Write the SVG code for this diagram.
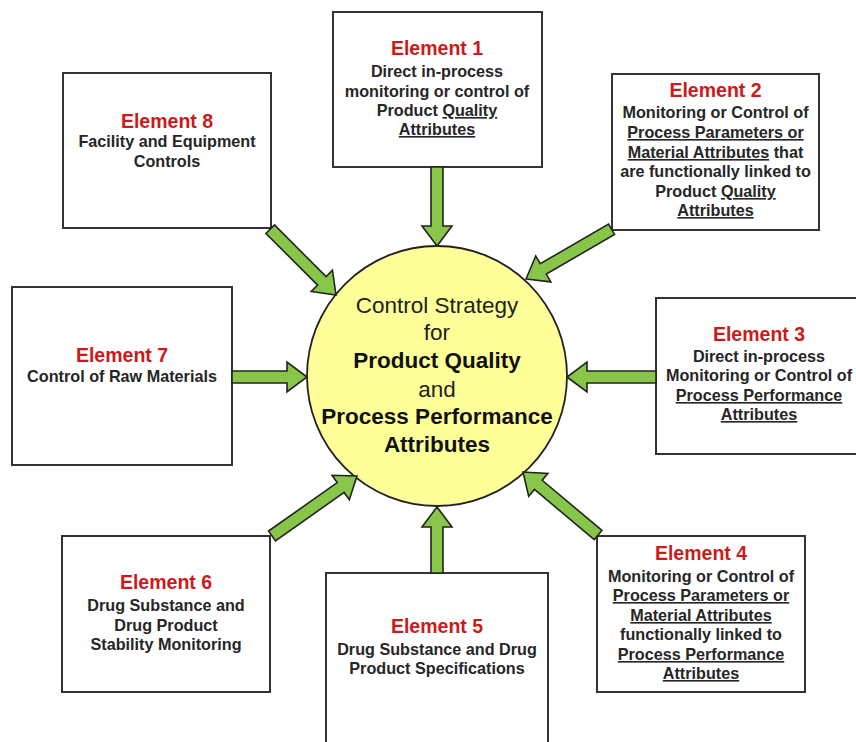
<svg xmlns="http://www.w3.org/2000/svg" width="856" height="742" viewBox="0 0 856 742">
<defs>
<style>
.box{fill:#fff;stroke:#333;stroke-width:2}
.arr{fill:#88c64a;stroke:#222;stroke-width:1.6;stroke-linejoin:miter}
.hd{font-family:"Liberation Sans",Arial,sans-serif;font-weight:bold;font-size:19.5px;fill:#cc1a1a;text-anchor:middle}
.bd{font-family:"Liberation Sans",Arial,sans-serif;font-weight:bold;font-size:16.2px;fill:#262626;text-anchor:middle}
.u{text-decoration:underline}
.ct{font-family:"Liberation Sans",Arial,sans-serif;font-size:22.5px;fill:#222;text-anchor:middle}
.cb{font-weight:bold;fill:#111}
</style>
<path id="a" d="M0,-6 H-20 V-15 L0,0 L-20,15 V6 Z"/>
</defs>
<rect width="856" height="742" fill="#fff"/>

<g id="center">
<circle cx="437" cy="376" r="130" fill="#ffff99" stroke="#222" stroke-width="1.8"/>
<text class="ct" x="437" y="313">Control Strategy</text>
<text class="ct" x="437" y="340">for</text>
<text class="ct cb" x="437" y="368">Product Quality</text>
<text class="ct" x="437" y="397">and</text>
<text class="ct cb" x="437" y="424">Process Performance</text>
<text class="ct cb" x="437" y="452">Attributes</text>
</g>

<g id="element1">
<rect class="box" x="333" y="12" width="209" height="155"/>
<text class="hd" x="437" y="55">Element 1</text>
<text class="bd" x="437" y="77">Direct in-process</text>
<text class="bd" x="437" y="97">monitoring or control of</text>
<text class="bd" x="437" y="116">Product <tspan class="u">Quality</tspan></text>
<text class="bd u" x="437" y="135">Attributes</text>
</g>

<g id="element2">
<rect class="box" x="612" y="74" width="207" height="156"/>
<text class="hd" x="715.5" y="97">Element 2</text>
<text class="bd" x="715.5" y="118">Monitoring or Control of</text>
<text class="bd u" x="715.5" y="138">Process Parameters or</text>
<text class="bd" x="715.5" y="158"><tspan class="u">Material Attributes</tspan> that</text>
<text class="bd" x="715.5" y="177">are functionally linked to</text>
<text class="bd" x="715.5" y="197">Product <tspan class="u">Quality</tspan></text>
<text class="bd u" x="715.5" y="216">Attributes</text>
</g>

<g id="element3">
<rect class="box" x="656" y="298" width="206" height="156"/>
<text class="hd" x="759" y="341">Element 3</text>
<text class="bd" x="759" y="362">Direct in-process</text>
<text class="bd" x="759" y="381">Monitoring or Control of</text>
<text class="bd u" x="759" y="401">Process Performance</text>
<text class="bd u" x="759" y="420">Attributes</text>
</g>

<g id="element4">
<rect class="box" x="597" y="536" width="208" height="156"/>
<text class="hd" x="701" y="560">Element 4</text>
<text class="bd" x="701" y="582">Monitoring or Control of</text>
<text class="bd u" x="701" y="601">Process Parameters or</text>
<text class="bd u" x="701" y="621">Material Attributes</text>
<text class="bd" x="701" y="640">functionally linked to</text>
<text class="bd u" x="701" y="660">Process Performance</text>
<text class="bd u" x="701" y="679">Attributes</text>
</g>

<g id="element5">
<rect class="box" x="326" y="573" width="222" height="180"/>
<text class="hd" x="437" y="633">Element 5</text>
<text class="bd" x="437" y="655">Drug Substance and Drug</text>
<text class="bd" x="437" y="674">Product Specifications</text>
</g>

<g id="element6">
<rect class="box" x="62" y="536" width="208" height="156"/>
<text class="hd" x="166" y="589">Element 6</text>
<text class="bd" x="166" y="611">Drug Substance and</text>
<text class="bd" x="166" y="631">Drug Product</text>
<text class="bd" x="166" y="650">Stability Monitoring</text>
</g>

<g id="element7">
<rect class="box" x="12" y="287" width="220" height="178"/>
<text class="hd" x="122" y="362">Element 7</text>
<text class="bd" x="122" y="382">Control of Raw Materials</text>
</g>

<g id="element8">
<rect class="box" x="63" y="73" width="208" height="155"/>
<text class="hd" x="167" y="128">Element 8</text>
<text class="bd" x="167" y="147">Facility and Equipment</text>
<text class="bd" x="167" y="167">Controls</text>
</g>

<g id="connectors">
<path class="arr" transform="translate(437,246) rotate(90)" d="M0,0 L-20,-15 V-6 H-79 V6 H-20 V15 Z"/>
<path class="arr" transform="translate(526,279) rotate(149.8)" d="M0,0 L-20,-15 V-6 H-99 V6 H-20 V15 Z"/>
<path class="arr" transform="translate(567,377) rotate(180)" d="M0,0 L-20,-15 V-6 H-89 V6 H-20 V15 Z"/>
<path class="arr" transform="translate(523,472) rotate(-140)" d="M0,0 L-20,-15 V-6 H-98 V6 H-20 V15 Z"/>
<path class="arr" transform="translate(437,507) rotate(-90)" d="M0,0 L-20,-15 V-6 H-66 V6 H-20 V15 Z"/>
<path class="arr" transform="translate(357,476) rotate(-35.2)" d="M0,0 L-20,-15 V-6 H-104 V6 H-20 V15 Z"/>
<path class="arr" transform="translate(307,377)" d="M0,0 L-20,-15 V-6 H-75 V6 H-20 V15 Z"/>
<path class="arr" transform="translate(336,295) rotate(45)" d="M0,0 L-20,-15 V-6 H-93 V6 H-20 V15 Z"/>
</g>
</svg>
